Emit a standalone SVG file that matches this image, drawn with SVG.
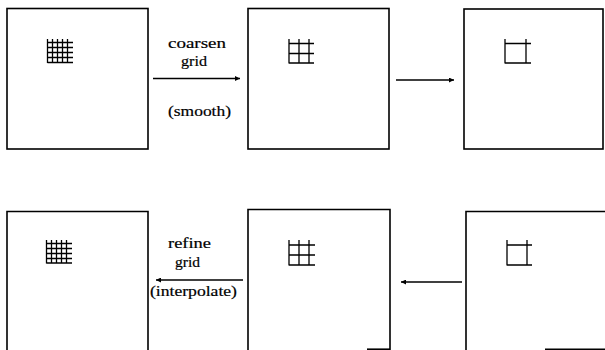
<svg xmlns="http://www.w3.org/2000/svg" width="605" height="350" viewBox="0 0 605 350">
<defs>
<style>
.box{fill:none;stroke:#000;stroke-width:1.6}
.g{fill:none;stroke:#000;stroke-width:1.3}
.c{fill:none;stroke:#000;stroke-width:1.3}
.t{font-family:"Liberation Serif","Times New Roman",serif;font-size:15px;fill:#000;stroke:#000;stroke-width:0.2}
</style>
<marker id="ah" viewBox="0 0 10 10" refX="10" refY="5" markerWidth="7" markerHeight="5" markerUnits="userSpaceOnUse" orient="auto">
<path d="M0,0 L10,5 L0,10 Z" fill="#000"/>
</marker>
</defs>
<rect width="605" height="350" fill="#fff"/>

<g id="box1">
<rect class="box" x="7" y="8.5" width="141" height="140.5"/>
<path class="g" d="M47.5,39V63 M52.5,39V63 M57.5,39V63 M62.5,39V63 M67.5,39V63 M47.5,42.5H73 M47.5,47.5H73 M47.5,52.5H73 M47.5,57.5H73 M47.5,62.5H73"/>
</g>
<g id="box2">
<rect class="box" x="248" y="8.5" width="141" height="140.5"/>
<path class="g" d="M289,39V63.5 M299,39V63.5 M309,39V63.5 M289,43.5H314 M289,53.5H314 M289,63H314"/>
</g>
<g id="box3">
<rect class="box" x="464" y="9" width="139" height="140"/>
<path class="g" d="M505,39V63.5 M526,39V63.5 M505,43.5H531 M505,63H531"/>
</g>
<g id="box4">
<path class="box" d="M7,352V211.5H148V352"/>
<path class="g" d="M46.5,240V263.5 M51.5,240V263.5 M56.5,240V263.5 M61.5,240V263.5 M66.5,240V263.5 M46.5,243.5H72 M46.5,248.5H72 M46.5,253.5H72 M46.5,258.5H72 M46.5,263H72"/>
</g>
<g id="box5">
<path class="box" d="M248,352V209.5H390V352"/>
<path class="box" d="M367,349.2H390"/>
<path class="g" d="M289,240V265.5 M299,240V265.5 M309,240V265.5 M289,245H315 M289,255H315 M289,265H315"/>
</g>
<g id="box6">
<path class="box" d="M466,352V211.5H606"/>
<path class="box" d="M545,349.2H606"/>
<path class="g" d="M507,240V265.5 M527,240V265.5 M507,245H532 M507,265H532"/>
</g>

<g id="connectors">
<line class="c" x1="153" y1="78.5" x2="240" y2="78.5" marker-end="url(#ah)"/>
<line class="c" x1="396" y1="80" x2="454" y2="80" marker-end="url(#ah)"/>
<line class="c" x1="243" y1="280" x2="156" y2="280" marker-end="url(#ah)"/>
<line class="c" x1="462" y1="282" x2="401" y2="282" marker-end="url(#ah)"/>
</g>

<g id="labels">
<text class="t" x="168" y="48" textLength="58" lengthAdjust="spacingAndGlyphs">coarsen</text>
<text class="t" x="181" y="66" textLength="26" lengthAdjust="spacingAndGlyphs">grid</text>
<text class="t" x="168" y="116" textLength="63" lengthAdjust="spacingAndGlyphs">(smooth)</text>
<text class="t" x="168" y="248" textLength="43" lengthAdjust="spacingAndGlyphs">refine</text>
<text class="t" x="175" y="267" textLength="25" lengthAdjust="spacingAndGlyphs">grid</text>
<text class="t" x="150" y="296" textLength="87" lengthAdjust="spacingAndGlyphs">(interpolate)</text>
</g>
</svg>
